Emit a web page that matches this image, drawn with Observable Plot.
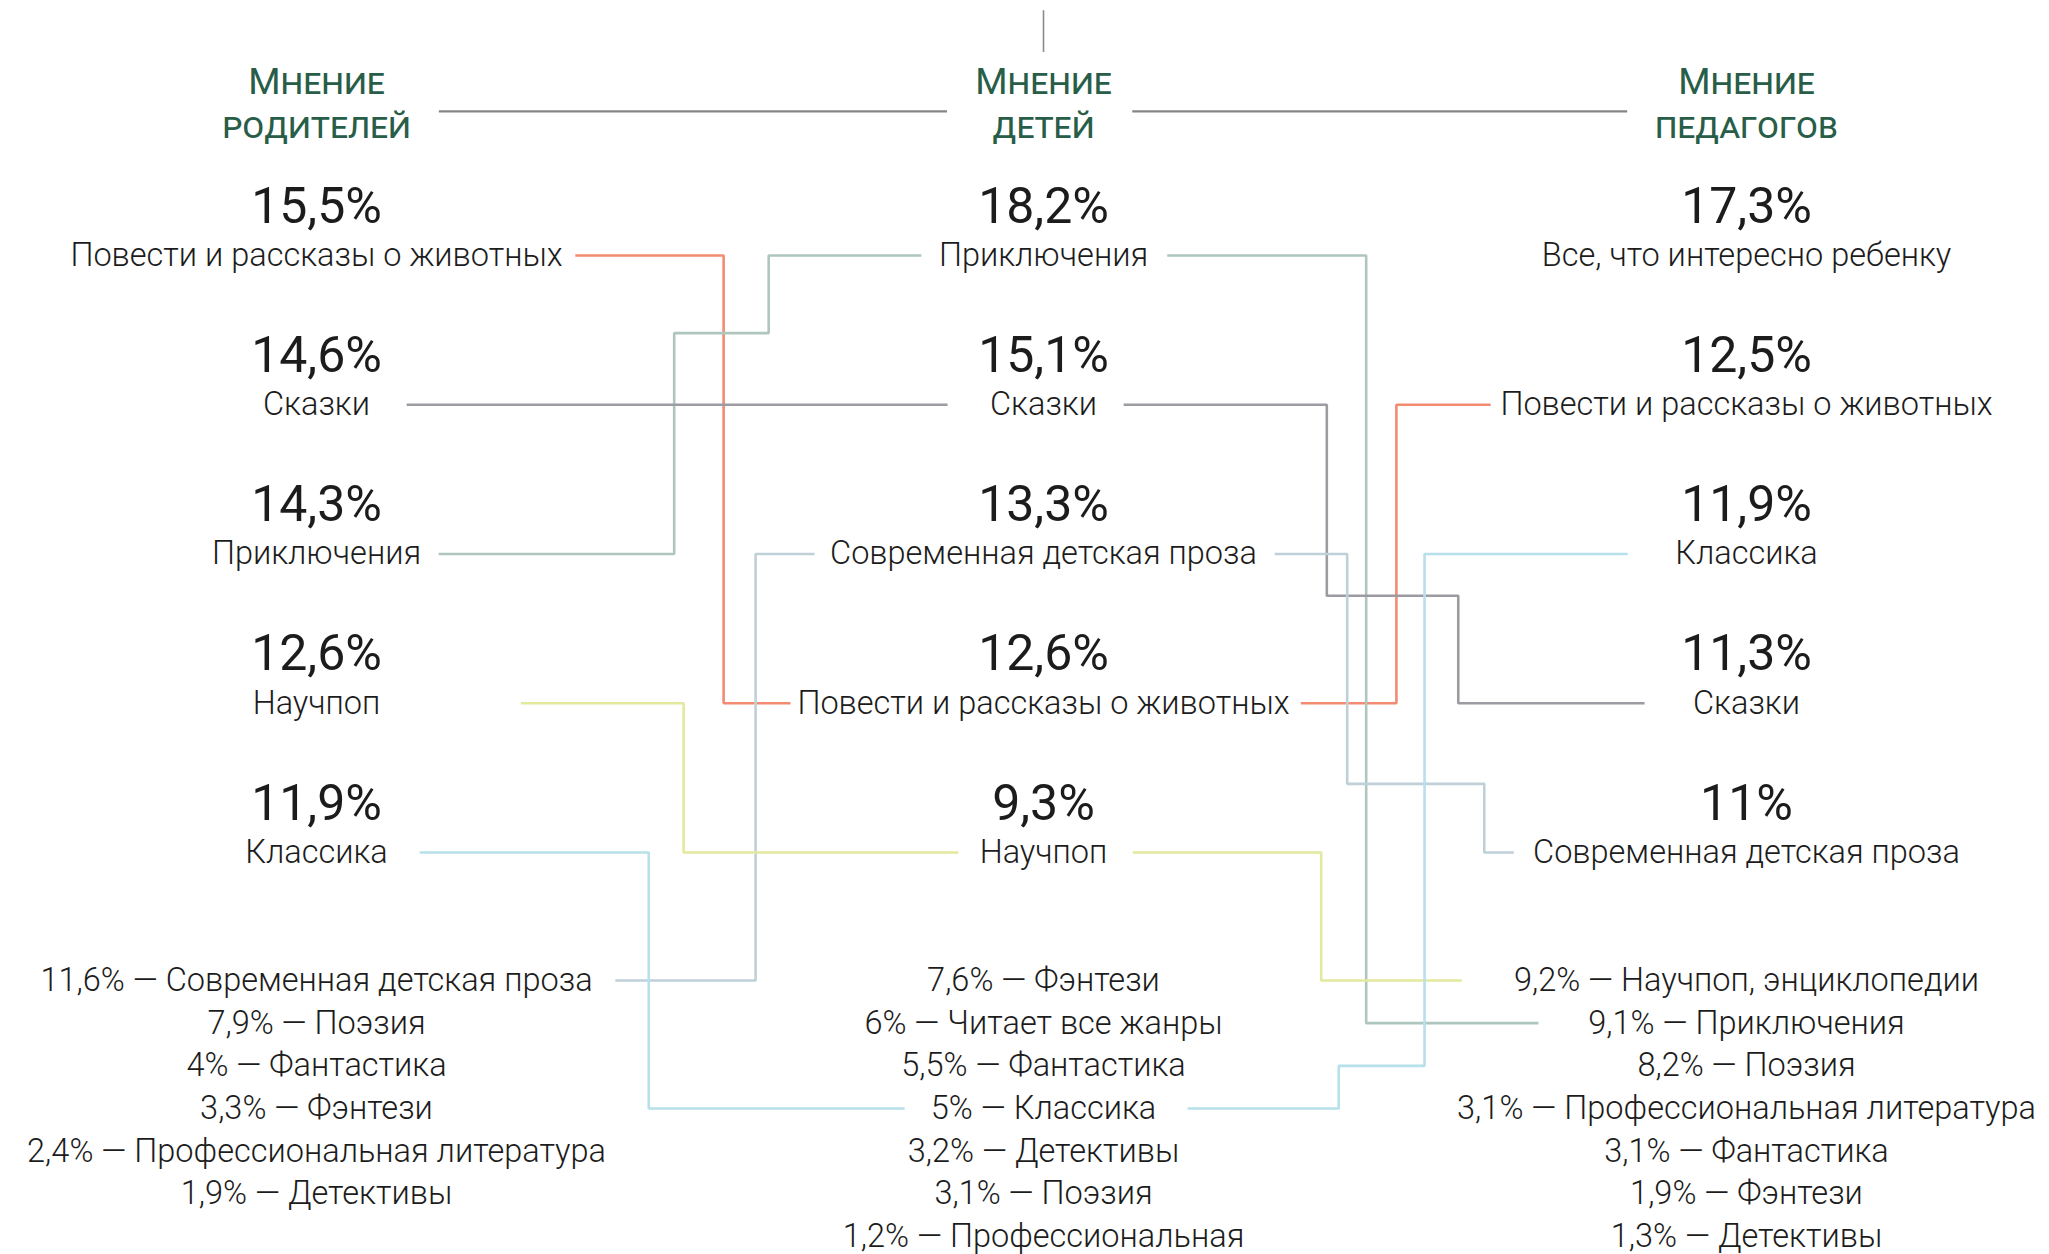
<!DOCTYPE html>
<html>
<head>
<meta charset="utf-8">
<script src="https://cdn.jsdelivr.net/npm/d3@7"></script>
<script src="https://cdn.jsdelivr.net/npm/@observablehq/plot@0.6"></script>
<style>
  html, body { margin: 0; padding: 0; background: #ffffff; }
  #chart svg { display: block; }
</style>
</head>
<body>
<div id="chart"></div>
<script>
// ---------- DATA ----------
const columnTitleTop = ["Мнение", "Мнение", "Мнение"];
const columnTitleBottom = ["родителей", "детей", "педагогов"];

const parentGenres = ["Повести и рассказы о животных", "Сказки", "Приключения", "Научпоп", "Классика"];
const parentValues = [15.5, 14.6, 14.3, 12.6, 11.9];
const parentOtherGenres = ["Современная детская проза", "Поэзия", "Фантастика", "Фэнтези", "Профессиональная литература", "Детективы"];
const parentOtherValues = [11.6, 7.9, 4, 3.3, 2.4, 1.9];

const childGenres = ["Приключения", "Сказки", "Современная детская проза", "Повести и рассказы о животных", "Научпоп"];
const childValues = [18.2, 15.1, 13.3, 12.6, 9.3];
const childOtherGenres = ["Фэнтези", "Читает все жанры", "Фантастика", "Классика", "Детективы", "Поэзия", "Профессиональная"];
const childOtherValues = [7.6, 6, 5.5, 5, 3.2, 3.1, 1.2];

const teacherGenres = ["Все, что интересно ребенку", "Повести и рассказы о животных", "Классика", "Сказки", "Современная детская проза"];
const teacherValues = [17.3, 12.5, 11.9, 11.3, 11];
const teacherOtherGenres = ["Научпоп, энциклопедии", "Приключения", "Поэзия", "Профессиональная литература", "Фантастика", "Фэнтези", "Детективы"];
const teacherOtherValues = [9.2, 9.1, 8.2, 3.1, 3.1, 1.9, 1.3];

// genres traced from column to column, with their colours
const linkedGenres = ["Повести и рассказы о животных", "Приключения", "Сказки", "Современная детская проза", "Научпоп", "Классика"];
const linkedColors = ["#f28b72", "#aec6be", "#9c9ba1", "#c0d0d9", "#e2e99d", "#b6e0ea"];

// ---------- LAYOUT (routing of connectors, in column units / row units) ----------
// xs: [start, lane, end] or [start, lane1, lane2, end] with a jog row between the lanes
const routes = [
  {genre: "Повести и рассказы о животных", from: 0, xs: [0.356, 0.560, 0.652]},
  {genre: "Приключения",                   from: 0, xs: [0.168, 0.492, 0.622, 0.832], jog: 0.52},
  {genre: "Сказки",                        from: 0, xs: [0.124, 0.5, 0.868]},
  {genre: "Современная детская проза",     from: 0, xs: [0.411, 0.604, 0.685]},
  {genre: "Научпоп",                       from: 0, xs: [0.281, 0.505, 0.883]},
  {genre: "Классика",                      from: 0, xs: [0.142, 0.457, 0.809]},
  {genre: "Повести и рассказы о животных", from: 1, xs: [1.366, 1.502, 1.636]},
  {genre: "Приключения",                   from: 1, xs: [1.176, 1.459, 1.704]},
  {genre: "Сказки",                        from: 1, xs: [1.114, 1.403, 1.590, 1.855], jog: 2.28},
  {genre: "Современная детская проза",     from: 1, xs: [1.329, 1.432, 1.627, 1.669], jog: 3.54},
  {genre: "Научпоп",                       from: 1, xs: [1.127, 1.395, 1.595]},
  {genre: "Классика",                      from: 1, xs: [1.205, 1.420, 1.542, 1.831], jog: 7}
];

// ---------- BUILD TABLES ----------
const fmt = v => String(v).replace(".", ",") + "%";
const tops = [[parentGenres, parentValues], [childGenres, childValues], [teacherGenres, teacherValues]];
const others = [[parentOtherGenres, parentOtherValues], [childOtherGenres, childOtherValues], [teacherOtherGenres, teacherOtherValues]];
const TOP_N = 5;

const topRows = tops.flatMap(([g, v], col) => g.map((genre, i) => ({col, row: i, genre, value: fmt(v[i])})));
const otherRows = others.flatMap(([g, v], col) => g.map((genre, j) => ({col, row: TOP_N + j, text: `${fmt(v[j])} — ${genre}`})));

const key = s => s.split(",")[0];
function slot(col, genre) {
  const i = tops[col][0].findIndex(g => key(g) === genre);
  if (i >= 0) return i;
  const j = others[col][0].findIndex(g => key(g) === genre);
  return TOP_N + j;
}

const linkPoints = routes.flatMap((r, id) => {
  const y0 = slot(r.from, r.genre), y1 = slot(r.from + 1, r.genre);
  const color = linkedColors[linkedGenres.indexOf(r.genre)];
  let pts;
  if (r.xs.length === 3) {
    const [a, l, b] = r.xs;
    pts = [[a, y0], [l, y0], [l, y1], [b, y1]];
  } else {
    const [a, l1, l2, b] = r.xs;
    pts = [[a, y0], [l1, y0], [l1, r.jog], [l2, r.jog], [l2, y1], [b, y1]];
  }
  return pts.map(([x, y]) => ({id, x, y, color}));
});

const headers = columnTitleTop.map((t, col) => ({col, row: -1, top: t, bottom: columnTitleBottom[col]}));
const headerRules = [{x1: 0.169, x2: 0.868, y: -0.965}, {x1: 1.127, x2: 1.831, y: -0.965}];

const FONT = "Roboto, 'Noto Sans', sans-serif";

const chart = Plot.plot({
  width: 2049,
  height: 1254,
  margin: 0,
  style: {background: "#ffffff", fontFamily: FONT},
  x: {type: "linear", domain: [0, 1, 2], range: [316, 1043, 1746], axis: null},
  y: {type: "linear", domain: [-1, 0, 4, 5, 11], range: [105.75, 255, 852, 980, 1236], axis: null},
  marks: [
    Plot.ruleX([1], {y1: -1.64, y2: -1.36, stroke: "#8a8a8a", strokeWidth: 1.6}),
    Plot.ruleY(headerRules, {x1: "x1", x2: "x2", y: "y", stroke: "#858585", strokeWidth: 2.2}),
    Plot.line(linkPoints, {x: "x", y: "y", z: "id", stroke: "color", strokeWidth: 2.6, strokeLinejoin: "miter", strokeLinecap: "butt"}),
    Plot.text(headers, {x: "col", y: "row", text: "top", fontSize: 37, fontVariant: "small-caps", fill: "#285d48", fontFamily: FONT, dy: -24}),
    Plot.text(headers, {x: "col", y: "row", text: "bottom", fontSize: 37, fontVariant: "small-caps", fill: "#285d48", fontFamily: FONT, dy: 20}),
    Plot.text(topRows, {x: "col", y: "row", text: "value", fontSize: 50, fill: "#1c1c1c", fontFamily: FONT, dy: -49}),
    Plot.text(topRows, {x: "col", y: "row", text: "genre", fontSize: 32.5, fontWeight: 300, fill: "#1c1c1c", fontFamily: FONT}),
    Plot.text(otherRows, {x: "col", y: "row", text: "text", fontSize: 32.5, fontWeight: 300, fill: "#1c1c1c", fontFamily: FONT})
  ]
});
document.getElementById("chart").appendChild(chart);
</script>
</body>
</html>
